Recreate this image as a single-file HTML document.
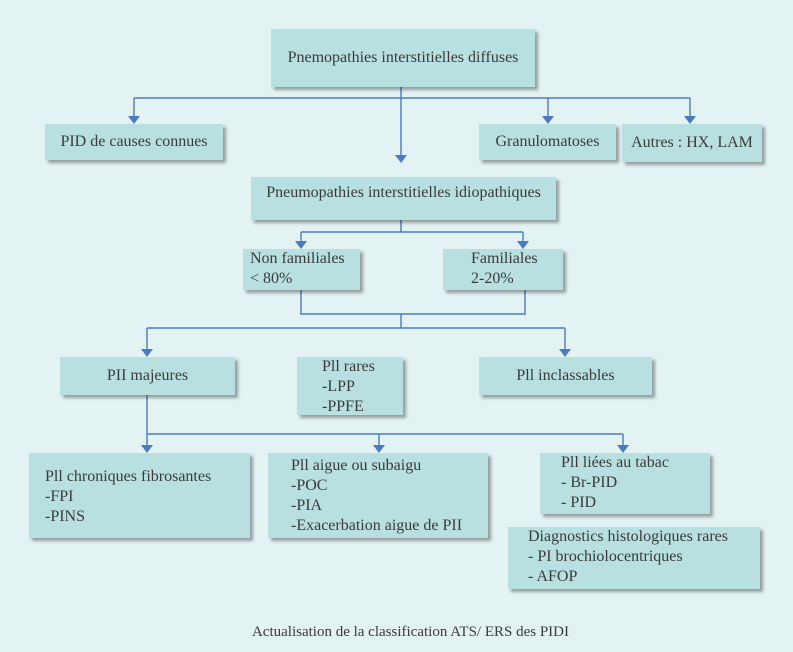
<!DOCTYPE html>
<html><head><meta charset="utf-8"><style>
body{margin:0;width:793px;height:652px;background:#e3f2f2;font-family:"Liberation Serif",serif;color:#3a3a3a;position:relative;overflow:hidden}
.b{position:absolute;background:#b9e0e1;box-shadow:3px 3px 3px rgba(0,0,0,0.35);font-size:16px;line-height:20px;box-sizing:border-box}
.c{display:flex;align-items:center;justify-content:center}
svg{position:absolute;left:0;top:0}
</style></head><body>
<svg width="793" height="652">
<g stroke="#4a7cc0" stroke-width="1.4" fill="none">
<path d="M401,87 V156"/>
<path d="M134,98 H690"/>
<path d="M134,98 V117 M548,98 V117 M690,98 V117"/>
<path d="M401,220 V232 M301,232 H523 M301,232 V242 M523,232 V242"/>
<path d="M301,290 V314 H525 V290 M401,314 V328 M147,328 H565"/>
<path d="M147,328 V350 M565,328 V350"/>
<path d="M147,395 V434 H623 M147,434 V446 M379,434 V446 M623,434 V446"/>
</g>
<g fill="#4a7cc0">
<polygon points="395,155 407,155 401,163"/>
<polygon points="128,116 140,116 134,124"/>
<polygon points="542,116 554,116 548,124"/>
<polygon points="684,116 696,116 690,124"/>
<polygon points="295,241 307,241 301,249"/>
<polygon points="517,241 529,241 523,249"/>
<polygon points="141,349 153,349 147,357"/>
<polygon points="559,349 571,349 565,357"/>
<polygon points="141,445 153,445 147,453"/>
<polygon points="373,445 385,445 379,453"/>
<polygon points="617,445 629,445 623,453"/>
</g></svg>
<div class="b c" style="left:271px;top:29px;width:264px;height:58px">Pnemopathies interstitielles diffuses</div>
<div class="b c" style="left:45px;top:124px;width:178px;height:36px">PID de causes connues</div>
<div class="b c" style="left:479px;top:124px;width:137px;height:36px">Granulomatoses</div>
<div class="b c" style="left:622px;top:124px;width:140px;height:38px">Autres : HX, LAM</div>
<div class="b c" style="left:251px;top:177px;width:305px;height:43px;padding-bottom:12px">Pneumopathies interstitielles idiopathiques</div>
<div class="b" style="left:243px;top:249px;width:117px;height:41px;padding:0 0 0 7px">Non familiales<br>&lt; 80%</div>
<div class="b" style="left:443px;top:249px;width:120px;height:41px;padding:0 0 0 28px">Familiales<br>2-20%</div>
<div class="b c" style="left:60px;top:357px;width:175px;height:38px">PII majeures</div>
<div class="b" style="left:297px;top:357px;width:106px;height:58px;padding:0 0 0 25px">Pll rares<br>-LPP<br>-PPFE</div>
<div class="b c" style="left:479px;top:357px;width:173px;height:38px">Pll inclassables</div>
<div class="b" style="left:29px;top:453px;width:221px;height:85px;padding:14px 0 0 16px">Pll chroniques fibrosantes<br>-FPI<br>-PINS</div>
<div class="b" style="left:268px;top:453px;width:220px;height:85px;padding:3px 0 0 23px">Pll aigue ou subaigu<br>-POC<br>-PIA<br>-Exacerbation aigue de PII</div>
<div class="b" style="left:540px;top:453px;width:170px;height:61px;padding:0 0 0 21px">Pll liées au tabac<br>- Br-PID<br>- PID</div>
<div class="b" style="left:508px;top:527px;width:252px;height:62px;padding:0 0 0 20px">Diagnostics histologiques rares<br>- PI brochiolocentriques<br>- AFOP</div>
<div style="position:absolute;left:0;width:793px;top:624px;text-align:center;font-size:15px;padding-left:28px;box-sizing:border-box">Actualisation de la classification ATS/ ERS des PIDI</div>
</body></html>
